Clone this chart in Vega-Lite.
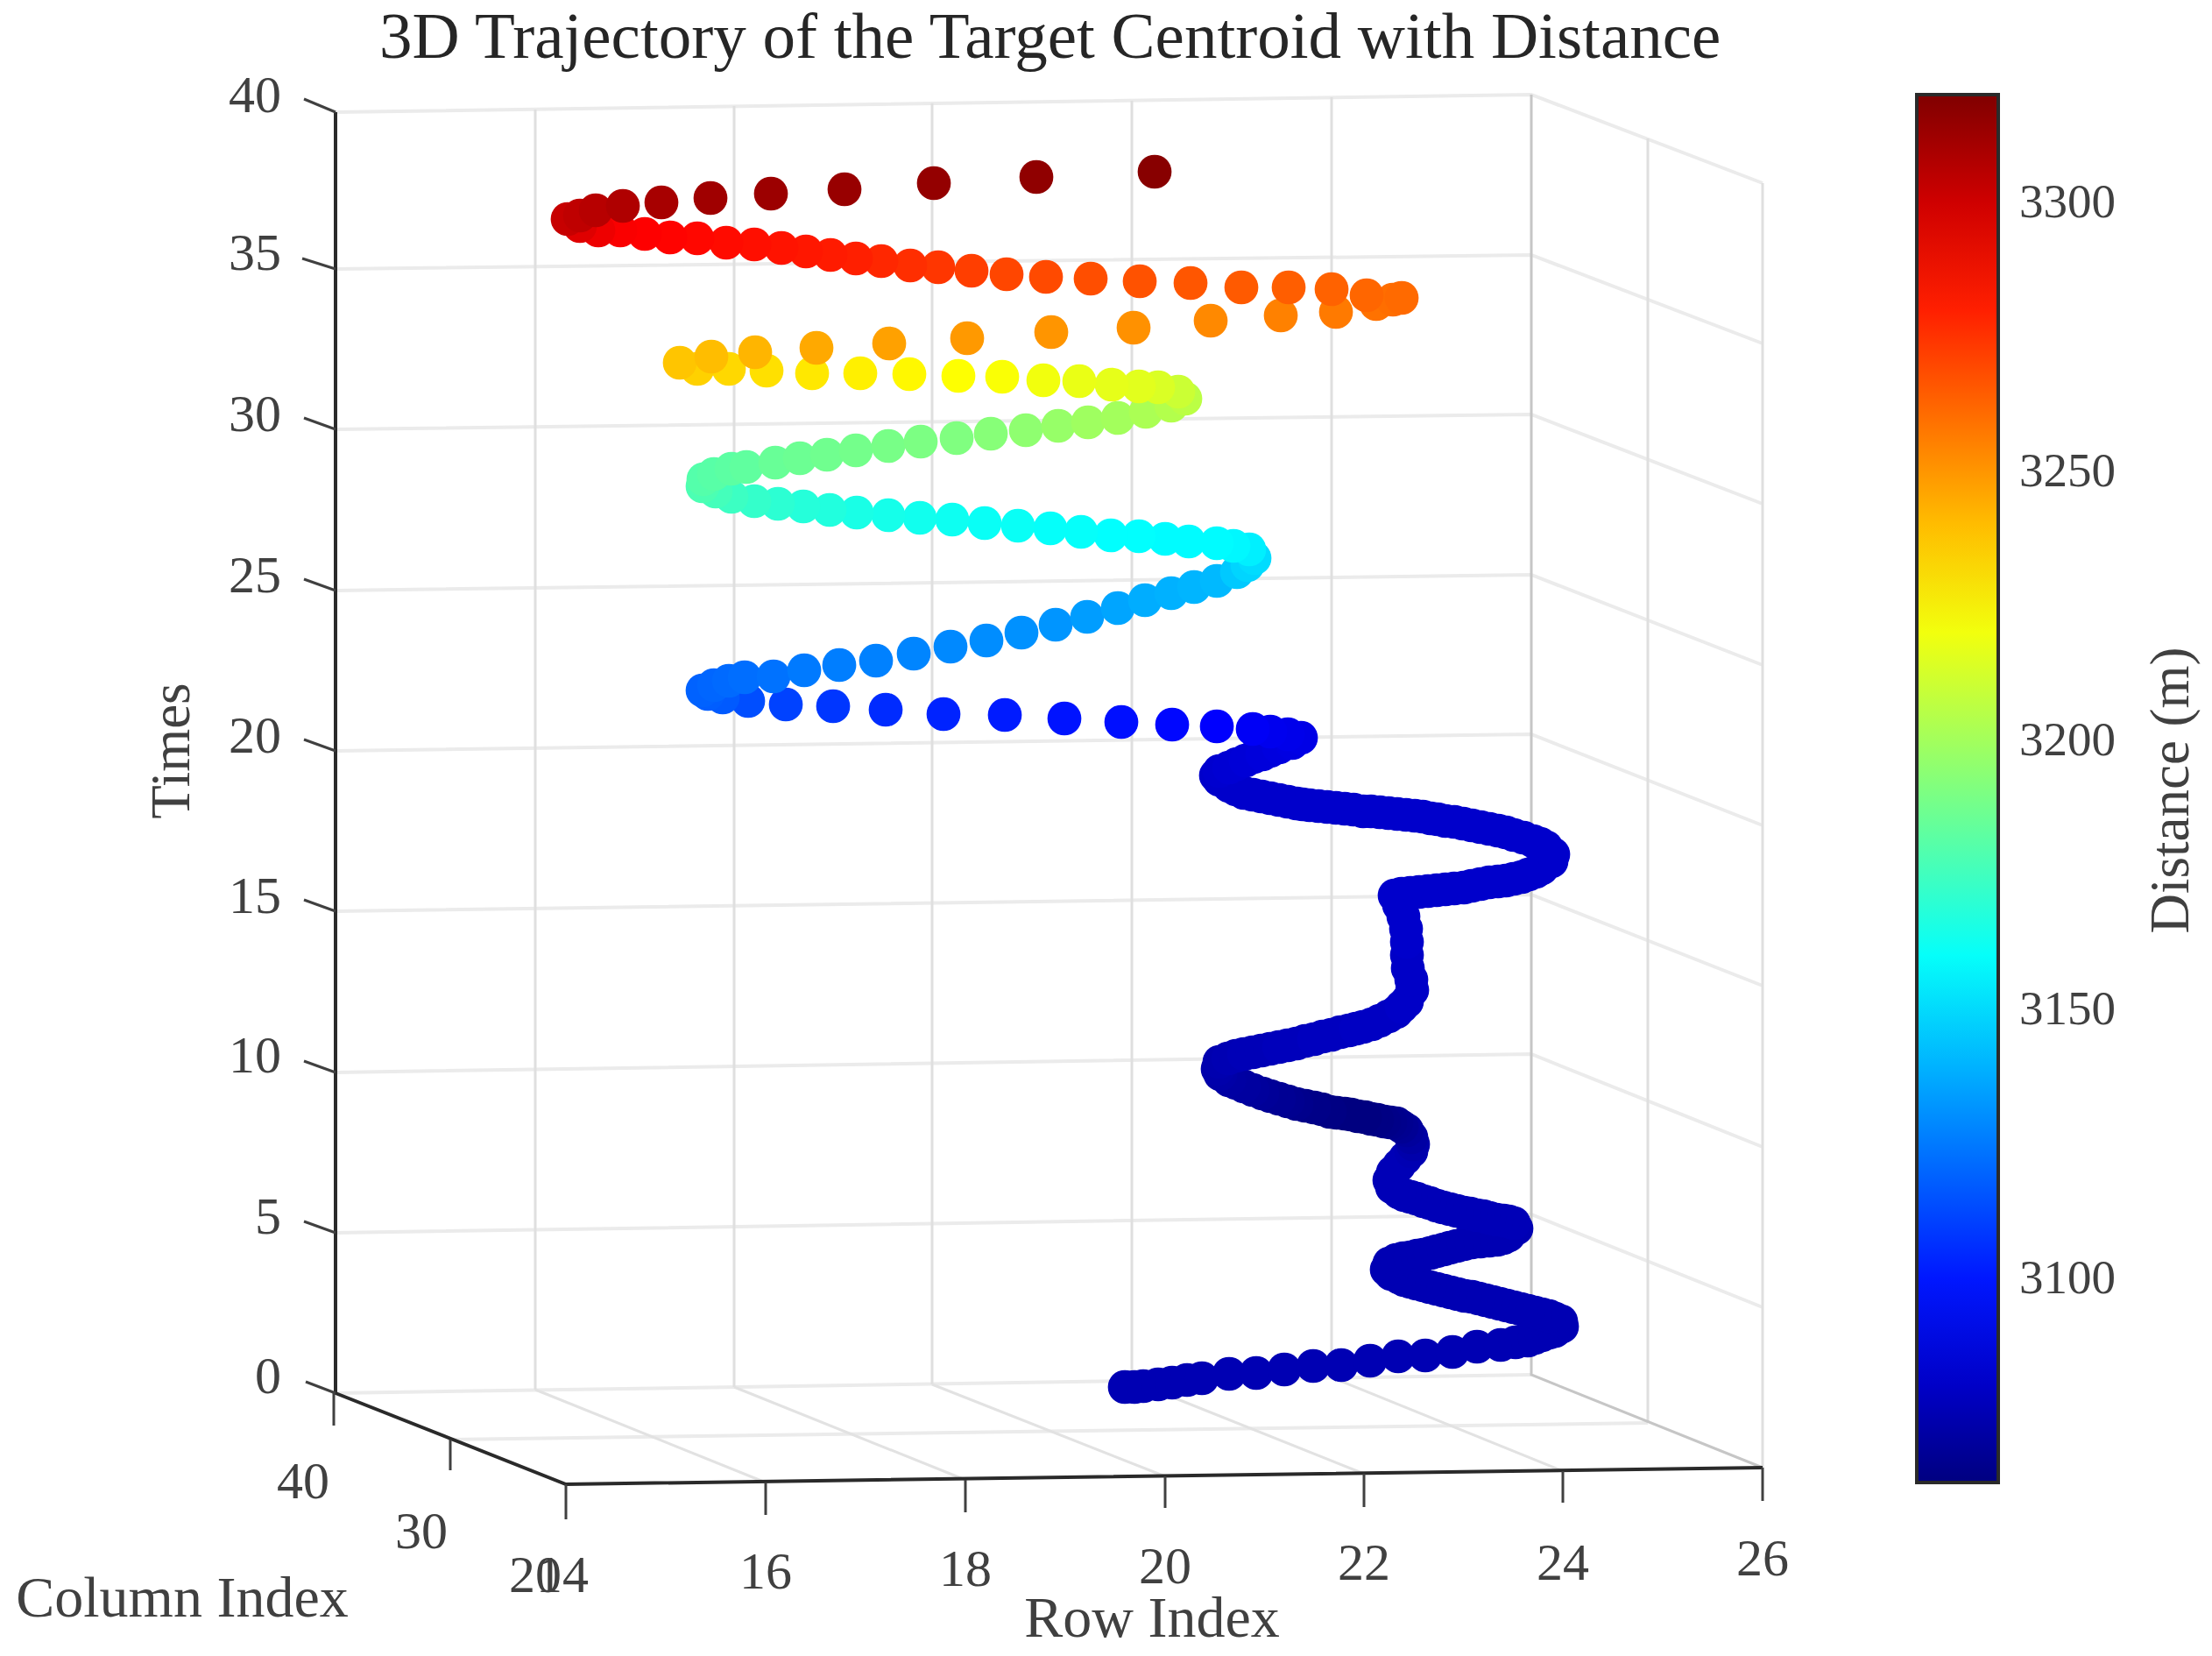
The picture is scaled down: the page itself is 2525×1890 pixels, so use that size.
{"$schema":"https://vega.github.io/schema/vega-lite/v6.json","width":2525,"height":1890,"padding":0,"autosize":{"type":"none"},"background":"white","config":{"view":{"stroke":null},"text":{"font":"Liberation Serif"}},
"title":{"text":"3D Trajectory of the Target Centroid with Distance","font":"Liberation Serif","fontSize":75,"fontWeight":"normal","color":"#262626","anchor":"start","frame":"group","dx":433,"offset":-141,"baseline":"alphabetic"},
"datasets":{
"gridV":[{"line":"a","x":611,"y":125},{"line":"a","x":611,"y":1586},{"line":"b","x":838,"y":121},{"line":"b","x":838,"y":1583},{"line":"c","x":1064,"y":118},{"line":"c","x":1064,"y":1580},{"line":"d","x":1292,"y":115},{"line":"d","x":1292,"y":1576},{"line":"e","x":1520,"y":111},{"line":"e","x":1520,"y":1572},{"line":"f","x":1881,"y":158},{"line":"f","x":1881,"y":1624},{"line":"g","x":2012,"y":209},{"line":"g","x":2012,"y":1675}],
"gridH":[{"line":"t40","x":383,"y":128},{"line":"t40","x":1748,"y":108},{"line":"t40","x":2012,"y":209},{"line":"t35","x":383,"y":307},{"line":"t35","x":1748,"y":291},{"line":"t35","x":2012,"y":392},{"line":"t30","x":383,"y":490},{"line":"t30","x":1748,"y":473},{"line":"t30","x":2012,"y":575},{"line":"t25","x":383,"y":674},{"line":"t25","x":1748,"y":656},{"line":"t25","x":2012,"y":759},{"line":"t20","x":383,"y":857},{"line":"t20","x":1748,"y":838},{"line":"t20","x":2012,"y":942},{"line":"t15","x":383,"y":1040},{"line":"t15","x":1748,"y":1021},{"line":"t15","x":2012,"y":1125},{"line":"t10","x":383,"y":1224},{"line":"t10","x":1748,"y":1203},{"line":"t10","x":2012,"y":1309},{"line":"t5","x":383,"y":1407},{"line":"t5","x":1748,"y":1386},{"line":"t5","x":2012,"y":1492},{"line":"t0","x":383,"y":1590},{"line":"t0","x":1748,"y":1569},{"line":"c30","x":514,"y":1643},{"line":"c30","x":1881,"y":1624}],
"gridF":[{"line":"a","x":611,"y":1586},{"line":"a","x":874,"y":1692},{"line":"b","x":838,"y":1583},{"line":"b","x":1102,"y":1689},{"line":"c","x":1064,"y":1580},{"line":"c","x":1330,"y":1685},{"line":"d","x":1292,"y":1576},{"line":"d","x":1557,"y":1682},{"line":"e","x":1520,"y":1572},{"line":"e","x":1784,"y":1679}],
"edges":[{"line":"a","x":1748,"y":108},{"line":"a","x":1748,"y":1569},{"line":"a","x":2012,"y":1675}],
"axes":[{"line":"z","x":383,"y":128},{"line":"z","x":383,"y":1590},{"line":"z","x":646,"y":1694},{"line":"z","x":2012,"y":1675}],
"ticks":[{"line":"t40","x":383,"y":128},{"line":"t40","x":347,"y":113},{"line":"t35","x":383,"y":307},{"line":"t35","x":345,"y":295},{"line":"t30","x":383,"y":490},{"line":"t30","x":347,"y":477},{"line":"t25","x":383,"y":674},{"line":"t25","x":347,"y":661},{"line":"t20","x":383,"y":857},{"line":"t20","x":347,"y":844},{"line":"t15","x":383,"y":1040},{"line":"t15","x":347,"y":1027},{"line":"t10","x":383,"y":1224},{"line":"t10","x":347,"y":1211},{"line":"t5","x":383,"y":1407},{"line":"t5","x":347,"y":1394},{"line":"t0","x":383,"y":1590},{"line":"t0","x":349,"y":1577},{"line":"c40","x":381,"y":1590},{"line":"c40","x":381,"y":1627},{"line":"c30","x":514,"y":1643},{"line":"c30","x":514,"y":1678},{"line":"c20","x":646,"y":1694},{"line":"c20","x":646,"y":1734},{"line":"r16","x":874,"y":1692},{"line":"r16","x":874,"y":1729},{"line":"r18","x":1102,"y":1689},{"line":"r18","x":1102,"y":1726},{"line":"r20","x":1330,"y":1685},{"line":"r20","x":1330,"y":1721},{"line":"r22","x":1557,"y":1682},{"line":"r22","x":1557,"y":1720},{"line":"r24","x":1784,"y":1679},{"line":"r24","x":1784,"y":1715},{"line":"r26","x":2012,"y":1675},{"line":"r26","x":2012,"y":1713},{"line":"b3300","x":2272,"y":228},{"line":"b3300","x":2283,"y":228},{"line":"b3250","x":2272,"y":536},{"line":"b3250","x":2283,"y":536},{"line":"b3200","x":2272,"y":844},{"line":"b3200","x":2283,"y":844},{"line":"b3150","x":2272,"y":1153},{"line":"b3150","x":2283,"y":1153},{"line":"b3100","x":2272,"y":1461},{"line":"b3100","x":2283,"y":1461}],
"timeLabels":[{"label":"40","x":321,"y":128},{"label":"35","x":321,"y":308},{"label":"30","x":321,"y":492},{"label":"25","x":321,"y":676},{"label":"20","x":321,"y":859},{"label":"15","x":321,"y":1042},{"label":"10","x":321,"y":1224},{"label":"5","x":321,"y":1408},{"label":"0","x":321,"y":1590}],
"axisLabels":[{"label":"40","x":346,"y":1710},{"label":"30","x":481,"y":1767},{"label":"20","x":611,"y":1817},{"label":"14","x":642,"y":1817},{"label":"16","x":874,"y":1813},{"label":"18","x":1102,"y":1810},{"label":"20","x":1330,"y":1807},{"label":"22","x":1557,"y":1803},{"label":"24","x":1784,"y":1803},{"label":"26","x":2012,"y":1798}],
"axisTitles":[{"label":"Row Index","x":1315,"y":1868},{"label":"Column Index","x":208,"y":1845}],
"sideTitles":[{"label":"Times","x":216,"y":857},{"label":"Distance (m)","x":2498,"y":902}],
"trajectory":[
{"x":1284,"y":1583,"distance":3075},{"x":1295,"y":1583,"distance":3075},{"x":1305,"y":1582,"distance":3075},{"x":1322,"y":1580,"distance":3075},{"x":1338,"y":1578,"distance":3075},{"x":1355,"y":1575,"distance":3075},{"x":1372,"y":1573,"distance":3075},{"x":1403,"y":1568,"distance":3075},{"x":1434,"y":1567,"distance":3075},{"x":1466,"y":1563,"distance":3075},{"x":1499,"y":1559,"distance":3075},{"x":1531,"y":1558,"distance":3075},{"x":1564,"y":1553,"distance":3075},{"x":1596,"y":1548,"distance":3075},{"x":1627,"y":1547,"distance":3075},{"x":1658,"y":1543,"distance":3075},{"x":1686,"y":1537,"distance":3075},{"x":1713,"y":1535,"distance":3075},{"x":1730,"y":1532,"distance":3075},{"x":1744,"y":1530,"distance":3075},{"x":1752,"y":1527,"distance":3075},{"x":1760,"y":1524,"distance":3075},{"x":1768,"y":1521,"distance":3075},{"x":1775,"y":1519,"distance":3075},{"x":1783,"y":1514,"distance":3075},{"x":1782,"y":1508,"distance":3075},{"x":1775,"y":1505,"distance":3075},{"x":1768,"y":1502,"distance":3075},{"x":1760,"y":1500,"distance":3075},{"x":1752,"y":1498,"distance":3075},{"x":1744,"y":1496,"distance":3075},{"x":1736,"y":1494,"distance":3075},{"x":1728,"y":1492,"distance":3075},{"x":1720,"y":1490,"distance":3075},{"x":1712,"y":1488,"distance":3075},{"x":1704,"y":1486,"distance":3075},{"x":1696,"y":1484,"distance":3075},{"x":1688,"y":1482,"distance":3075},{"x":1680,"y":1480,"distance":3075},{"x":1672,"y":1479,"distance":3075},{"x":1664,"y":1477,"distance":3075},{"x":1656,"y":1475,"distance":3075},{"x":1648,"y":1473,"distance":3075},{"x":1640,"y":1471,"distance":3075},{"x":1632,"y":1469,"distance":3075},{"x":1625,"y":1467,"distance":3075},{"x":1617,"y":1465,"distance":3075},{"x":1610,"y":1463,"distance":3075},{"x":1603,"y":1461,"distance":3075},{"x":1597,"y":1458,"distance":3075},{"x":1588,"y":1454,"distance":3075},{"x":1583,"y":1449,"distance":3075},{"x":1586,"y":1442,"distance":3075},{"x":1594,"y":1438,"distance":3075},{"x":1602,"y":1436,"distance":3075},{"x":1610,"y":1435,"distance":3075},{"x":1618,"y":1433,"distance":3075},{"x":1625,"y":1432,"distance":3075},{"x":1633,"y":1430,"distance":3075},{"x":1640,"y":1428,"distance":3075},{"x":1648,"y":1426,"distance":3075},{"x":1655,"y":1424,"distance":3075},{"x":1663,"y":1422,"distance":3075},{"x":1671,"y":1420,"distance":3075},{"x":1680,"y":1418,"distance":3075},{"x":1690,"y":1417,"distance":3075},{"x":1700,"y":1416,"distance":3075},{"x":1709,"y":1415,"distance":3075},{"x":1716,"y":1413,"distance":3075},{"x":1722,"y":1410,"distance":3075},{"x":1731,"y":1402,"distance":3075},{"x":1728,"y":1396,"distance":3076},{"x":1722,"y":1394,"distance":3076},{"x":1716,"y":1393,"distance":3076},{"x":1708,"y":1392,"distance":3076},{"x":1700,"y":1390,"distance":3076},{"x":1693,"y":1388,"distance":3076},{"x":1686,"y":1387,"distance":3076},{"x":1678,"y":1385,"distance":3076},{"x":1671,"y":1384,"distance":3076},{"x":1663,"y":1382,"distance":3076},{"x":1655,"y":1380,"distance":3076},{"x":1647,"y":1378,"distance":3076},{"x":1640,"y":1376,"distance":3076},{"x":1632,"y":1373,"distance":3076},{"x":1625,"y":1371,"distance":3076},{"x":1617,"y":1368,"distance":3076},{"x":1610,"y":1366,"distance":3076},{"x":1603,"y":1364,"distance":3076},{"x":1597,"y":1361,"distance":3076},{"x":1589,"y":1355,"distance":3076},{"x":1586,"y":1347,"distance":3076},{"x":1590,"y":1338,"distance":3076},{"x":1597,"y":1330,"distance":3076},{"x":1604,"y":1322,"distance":3076},{"x":1611,"y":1314,"distance":3075},{"x":1613,"y":1306,"distance":3073},{"x":1611,"y":1298,"distance":3071},{"x":1606,"y":1290,"distance":3069},{"x":1600,"y":1286,"distance":3067},{"x":1594,"y":1282,"distance":3066},{"x":1587,"y":1281,"distance":3065},{"x":1580,"y":1280,"distance":3064},{"x":1572,"y":1278,"distance":3063},{"x":1565,"y":1277,"distance":3063},{"x":1558,"y":1275,"distance":3062},{"x":1550,"y":1274,"distance":3062},{"x":1542,"y":1272,"distance":3062},{"x":1535,"y":1271,"distance":3062},{"x":1526,"y":1270,"distance":3062},{"x":1518,"y":1269,"distance":3063},{"x":1509,"y":1266,"distance":3063},{"x":1500,"y":1264,"distance":3064},{"x":1490,"y":1262,"distance":3064},{"x":1480,"y":1260,"distance":3065},{"x":1470,"y":1257,"distance":3066},{"x":1460,"y":1254,"distance":3067},{"x":1450,"y":1251,"distance":3067},{"x":1441,"y":1248,"distance":3068},{"x":1430,"y":1244,"distance":3069},{"x":1420,"y":1240,"distance":3070},{"x":1411,"y":1236,"distance":3070},{"x":1403,"y":1233,"distance":3071},{"x":1393,"y":1226,"distance":3072},{"x":1390,"y":1220,"distance":3073},{"x":1392,"y":1212,"distance":3074},{"x":1402,"y":1208,"distance":3075},{"x":1411,"y":1205,"distance":3075},{"x":1420,"y":1203,"distance":3076},{"x":1430,"y":1201,"distance":3076},{"x":1440,"y":1199,"distance":3076},{"x":1450,"y":1197,"distance":3076},{"x":1460,"y":1195,"distance":3077},{"x":1470,"y":1193,"distance":3077},{"x":1480,"y":1191,"distance":3077},{"x":1490,"y":1188,"distance":3077},{"x":1500,"y":1186,"distance":3078},{"x":1510,"y":1183,"distance":3078},{"x":1520,"y":1181,"distance":3078},{"x":1530,"y":1178,"distance":3078},{"x":1540,"y":1176,"distance":3078},{"x":1548,"y":1174,"distance":3079},{"x":1556,"y":1172,"distance":3079},{"x":1566,"y":1169,"distance":3079},{"x":1575,"y":1165,"distance":3079},{"x":1585,"y":1160,"distance":3079},{"x":1594,"y":1155,"distance":3079},{"x":1600,"y":1149,"distance":3080},{"x":1606,"y":1143,"distance":3080},{"x":1612,"y":1130,"distance":3080},{"x":1611,"y":1118,"distance":3080},{"x":1607,"y":1105,"distance":3080},{"x":1606,"y":1090,"distance":3080},{"x":1606,"y":1075,"distance":3081},{"x":1605,"y":1060,"distance":3081},{"x":1602,"y":1046,"distance":3081},{"x":1597,"y":1033,"distance":3081},{"x":1592,"y":1022,"distance":3081},{"x":1600,"y":1020,"distance":3081},{"x":1610,"y":1019,"distance":3081},{"x":1620,"y":1018,"distance":3081},{"x":1630,"y":1017,"distance":3081},{"x":1640,"y":1016,"distance":3081},{"x":1650,"y":1015,"distance":3081},{"x":1660,"y":1014,"distance":3081},{"x":1671,"y":1013,"distance":3081},{"x":1680,"y":1011,"distance":3081},{"x":1690,"y":1009,"distance":3081},{"x":1700,"y":1007,"distance":3081},{"x":1710,"y":1006,"distance":3081},{"x":1719,"y":1005,"distance":3081},{"x":1728,"y":1003,"distance":3081},{"x":1737,"y":1001,"distance":3081},{"x":1745,"y":998,"distance":3081},{"x":1753,"y":995,"distance":3081},{"x":1760,"y":991,"distance":3081},{"x":1771,"y":983,"distance":3081},{"x":1773,"y":975,"distance":3081},{"x":1765,"y":967,"distance":3081},{"x":1758,"y":963,"distance":3081},{"x":1750,"y":960,"distance":3081},{"x":1739,"y":956,"distance":3081},{"x":1728,"y":953,"distance":3081},{"x":1719,"y":950,"distance":3081},{"x":1710,"y":948,"distance":3081},{"x":1700,"y":946,"distance":3081},{"x":1690,"y":944,"distance":3081},{"x":1680,"y":942,"distance":3081},{"x":1670,"y":940,"distance":3081},{"x":1660,"y":938,"distance":3081},{"x":1650,"y":937,"distance":3081},{"x":1641,"y":935,"distance":3081},{"x":1633,"y":934,"distance":3081},{"x":1624,"y":932,"distance":3081},{"x":1615,"y":931,"distance":3081},{"x":1605,"y":930,"distance":3081},{"x":1595,"y":929,"distance":3081},{"x":1585,"y":928,"distance":3081},{"x":1575,"y":927,"distance":3081},{"x":1565,"y":926,"distance":3081},{"x":1556,"y":926,"distance":3081},{"x":1545,"y":924,"distance":3081},{"x":1535,"y":923,"distance":3081},{"x":1525,"y":922,"distance":3081},{"x":1515,"y":921,"distance":3081},{"x":1505,"y":920,"distance":3081},{"x":1495,"y":919,"distance":3081},{"x":1487,"y":918,"distance":3081},{"x":1480,"y":917,"distance":3081},{"x":1470,"y":915,"distance":3081},{"x":1460,"y":913,"distance":3081},{"x":1450,"y":911,"distance":3081},{"x":1440,"y":909,"distance":3081},{"x":1430,"y":907,"distance":3081},{"x":1420,"y":905,"distance":3081},{"x":1411,"y":901,"distance":3081},{"x":1403,"y":897,"distance":3081},{"x":1392,"y":890,"distance":3081},{"x":1388,"y":885,"distance":3081},{"x":1392,"y":880,"distance":3082},{"x":1403,"y":876,"distance":3083},{"x":1412,"y":872,"distance":3083},{"x":1422,"y":868,"distance":3084},{"x":1431,"y":864,"distance":3084},{"x":1441,"y":861,"distance":3085},{"x":1450,"y":857,"distance":3085},{"x":1460,"y":853,"distance":3086},{"x":1475,"y":848,"distance":3087},{"x":1485,"y":842,"distance":3088},{"x":1470,"y":838,"distance":3089},{"x":1450,"y":835,"distance":3090},{"x":1430,"y":832,"distance":3092},{"x":1389,"y":829,"distance":3094},{"x":1338,"y":827,"distance":3096},{"x":1280,"y":824,"distance":3098},{"x":1215,"y":820,"distance":3099},{"x":1147,"y":816,"distance":3101},{"x":1077,"y":815,"distance":3103},{"x":1011,"y":810,"distance":3105},{"x":951,"y":806,"distance":3108},{"x":897,"y":804,"distance":3111},{"x":854,"y":800,"distance":3114},{"x":825,"y":796,"distance":3117},{"x":808,"y":792,"distance":3118},{"x":802,"y":788,"distance":3119},{"x":815,"y":782,"distance":3120},{"x":832,"y":777,"distance":3121},{"x":850,"y":773,"distance":3122},{"x":883,"y":772,"distance":3123},{"x":918,"y":765,"distance":3125},{"x":958,"y":759,"distance":3126},{"x":1000,"y":754,"distance":3127},{"x":1043,"y":746,"distance":3128},{"x":1085,"y":738,"distance":3129},{"x":1126,"y":731,"distance":3130},{"x":1166,"y":722,"distance":3131},{"x":1205,"y":713,"distance":3132},{"x":1241,"y":704,"distance":3134},{"x":1276,"y":694,"distance":3136},{"x":1307,"y":685,"distance":3138},{"x":1337,"y":677,"distance":3139},{"x":1363,"y":670,"distance":3140},{"x":1389,"y":663,"distance":3141},{"x":1412,"y":653,"distance":3145},{"x":1424,"y":645,"distance":3148},{"x":1432,"y":637,"distance":3150},{"x":1426,"y":627,"distance":3155},{"x":1408,"y":623,"distance":3157},{"x":1389,"y":620,"distance":3158},{"x":1357,"y":618,"distance":3158},{"x":1330,"y":615,"distance":3158},{"x":1300,"y":612,"distance":3159},{"x":1268,"y":611,"distance":3159},{"x":1234,"y":607,"distance":3160},{"x":1199,"y":603,"distance":3160},{"x":1162,"y":600,"distance":3161},{"x":1124,"y":597,"distance":3161},{"x":1087,"y":593,"distance":3162},{"x":1050,"y":591,"distance":3163},{"x":1014,"y":588,"distance":3164},{"x":978,"y":585,"distance":3165},{"x":947,"y":582,"distance":3167},{"x":917,"y":578,"distance":3168},{"x":888,"y":575,"distance":3170},{"x":861,"y":572,"distance":3172},{"x":835,"y":567,"distance":3174},{"x":817,"y":561,"distance":3176},{"x":802,"y":555,"distance":3178},{"x":803,"y":547,"distance":3180},{"x":815,"y":541,"distance":3181},{"x":835,"y":535,"distance":3182},{"x":852,"y":533,"distance":3183},{"x":885,"y":528,"distance":3185},{"x":913,"y":523,"distance":3186},{"x":944,"y":519,"distance":3187},{"x":977,"y":514,"distance":3188},{"x":1014,"y":509,"distance":3189},{"x":1051,"y":504,"distance":3190},{"x":1092,"y":500,"distance":3191},{"x":1131,"y":495,"distance":3193},{"x":1171,"y":491,"distance":3195},{"x":1208,"y":486,"distance":3197},{"x":1242,"y":482,"distance":3199},{"x":1276,"y":477,"distance":3200},{"x":1308,"y":470,"distance":3202},{"x":1337,"y":463,"distance":3204},{"x":1353,"y":455,"distance":3206},{"x":1345,"y":447,"distance":3210},{"x":1322,"y":442,"distance":3214},{"x":1300,"y":441,"distance":3216},{"x":1269,"y":439,"distance":3217},{"x":1232,"y":435,"distance":3218},{"x":1191,"y":434,"distance":3220},{"x":1144,"y":430,"distance":3222},{"x":1094,"y":429,"distance":3223},{"x":1038,"y":427,"distance":3225},{"x":982,"y":426,"distance":3227},{"x":927,"y":426,"distance":3229},{"x":875,"y":423,"distance":3231},{"x":832,"y":421,"distance":3233},{"x":796,"y":421,"distance":3235},{"x":776,"y":414,"distance":3238},{"x":812,"y":407,"distance":3240},{"x":862,"y":402,"distance":3242},{"x":932,"y":397,"distance":3245},{"x":1015,"y":392,"distance":3247},{"x":1104,"y":386,"distance":3249},{"x":1200,"y":379,"distance":3250},{"x":1294,"y":374,"distance":3251},{"x":1382,"y":366,"distance":3253},{"x":1462,"y":360,"distance":3255},{"x":1525,"y":356,"distance":3257},{"x":1571,"y":347,"distance":3259},{"x":1590,"y":342,"distance":3260},{"x":1600,"y":340,"distance":3261},{"x":1560,"y":337,"distance":3262},{"x":1520,"y":330,"distance":3263},{"x":1471,"y":328,"distance":3264},{"x":1417,"y":328,"distance":3265},{"x":1359,"y":323,"distance":3266},{"x":1301,"y":321,"distance":3267},{"x":1245,"y":318,"distance":3268},{"x":1194,"y":316,"distance":3269},{"x":1149,"y":313,"distance":3270},{"x":1109,"y":309,"distance":3272},{"x":1071,"y":305,"distance":3274},{"x":1039,"y":303,"distance":3276},{"x":1006,"y":298,"distance":3278},{"x":977,"y":295,"distance":3280},{"x":948,"y":291,"distance":3281},{"x":920,"y":287,"distance":3282},{"x":892,"y":283,"distance":3283},{"x":861,"y":279,"distance":3284},{"x":829,"y":277,"distance":3285},{"x":796,"y":272,"distance":3286},{"x":765,"y":271,"distance":3287},{"x":736,"y":267,"distance":3288},{"x":708,"y":263,"distance":3289},{"x":683,"y":263,"distance":3292},{"x":662,"y":258,"distance":3296},{"x":648,"y":250,"distance":3302},{"x":662,"y":246,"distance":3304},{"x":680,"y":240,"distance":3306},{"x":711,"y":235,"distance":3308},{"x":755,"y":231,"distance":3310},{"x":811,"y":226,"distance":3312},{"x":880,"y":221,"distance":3313},{"x":964,"y":216,"distance":3314},{"x":1066,"y":209,"distance":3315},{"x":1183,"y":202,"distance":3316},{"x":1318,"y":196,"distance":3318}
]},
"layer":[
{"data":{"name":"gridH"},"mark":{"type":"line","color":"#ebebeb","strokeWidth":4,"clip":false},"encoding":{"x":{"field":"x","type":"quantitative","scale":{"domain":[0,2525],"nice":false,"zero":false},"axis":null},"y":{"field":"y","type":"quantitative","scale":{"domain":[1890,0],"nice":false,"zero":false},"axis":null},"detail":{"field":"line"},"order":{"field":"x"}}},
{"data":{"name":"gridV"},"mark":{"type":"line","color":"#dfdfdf","strokeWidth":3},"encoding":{"x":{"field":"x","type":"quantitative"},"y":{"field":"y","type":"quantitative"},"detail":{"field":"line"},"order":{"field":"y"}}},
{"data":{"name":"gridF"},"mark":{"type":"line","color":"#e2e2e2","strokeWidth":3},"encoding":{"x":{"field":"x","type":"quantitative"},"y":{"field":"y","type":"quantitative"},"detail":{"field":"line"},"order":{"field":"y"}}},
{"data":{"name":"edges"},"mark":{"type":"line","color":"#c6c6c6","strokeWidth":3},"encoding":{"x":{"field":"x","type":"quantitative"},"y":{"field":"y","type":"quantitative"},"detail":{"field":"line"},"order":{"field":"y"}}},
{"data":{"name":"axes"},"mark":{"type":"line","color":"#2a2a2a","strokeWidth":4},"encoding":{"x":{"field":"x","type":"quantitative"},"y":{"field":"y","type":"quantitative"},"detail":{"field":"line"},"order":{"field":"x"}}},
{"data":{"name":"ticks"},"mark":{"type":"line","color":"#404040","strokeWidth":3},"encoding":{"x":{"field":"x","type":"quantitative"},"y":{"field":"y","type":"quantitative"},"detail":{"field":"line"},"order":{"field":"x"}}},
{"data":{"name":"trajectory"},"mark":{"type":"circle","size":1500,"opacity":1},"encoding":{"x":{"field":"x","type":"quantitative"},"y":{"field":"y","type":"quantitative"},"color":{"field":"distance","type":"quantitative","scale":{"domain":[3062,3094.25,3158.75,3223.25,3287.75,3320],"range":["#000080","#0000ff","#00ffff","#ffff00","#ff0000","#800000"],"interpolate":"rgb"},"legend":{"title":null,"orient":"none","legendX":2188,"legendY":108,"direction":"vertical","type":"gradient","gradientLength":1584,"gradientThickness":93,"gradientStrokeColor":"#2a2a2a","gradientStrokeWidth":4,"values":[3100,3150,3200,3250,3300],"format":"d","labelFont":"Liberation Serif","labelFontSize":55,"labelColor":"#404040","labelOffset":24,"labelOverlap":false,"padding":0}}}},
{"data":{"name":"timeLabels"},"mark":{"type":"text","align":"right","baseline":"alphabetic","fontSize":60,"color":"#404040","font":"Liberation Serif"},"encoding":{"x":{"field":"x","type":"quantitative"},"y":{"field":"y","type":"quantitative"},"text":{"field":"label"}}},
{"data":{"name":"axisLabels"},"mark":{"type":"text","align":"center","baseline":"alphabetic","fontSize":60,"color":"#404040","font":"Liberation Serif"},"encoding":{"x":{"field":"x","type":"quantitative"},"y":{"field":"y","type":"quantitative"},"text":{"field":"label"}}},
{"data":{"name":"axisTitles"},"mark":{"type":"text","align":"center","baseline":"alphabetic","fontSize":66,"color":"#404040","font":"Liberation Serif"},"encoding":{"x":{"field":"x","type":"quantitative"},"y":{"field":"y","type":"quantitative"},"text":{"field":"label"}}},
{"data":{"name":"sideTitles"},"mark":{"type":"text","align":"center","baseline":"alphabetic","angle":270,"fontSize":63,"color":"#404040","font":"Liberation Serif"},"encoding":{"x":{"field":"x","type":"quantitative"},"y":{"field":"y","type":"quantitative"},"text":{"field":"label"}}}
]}
